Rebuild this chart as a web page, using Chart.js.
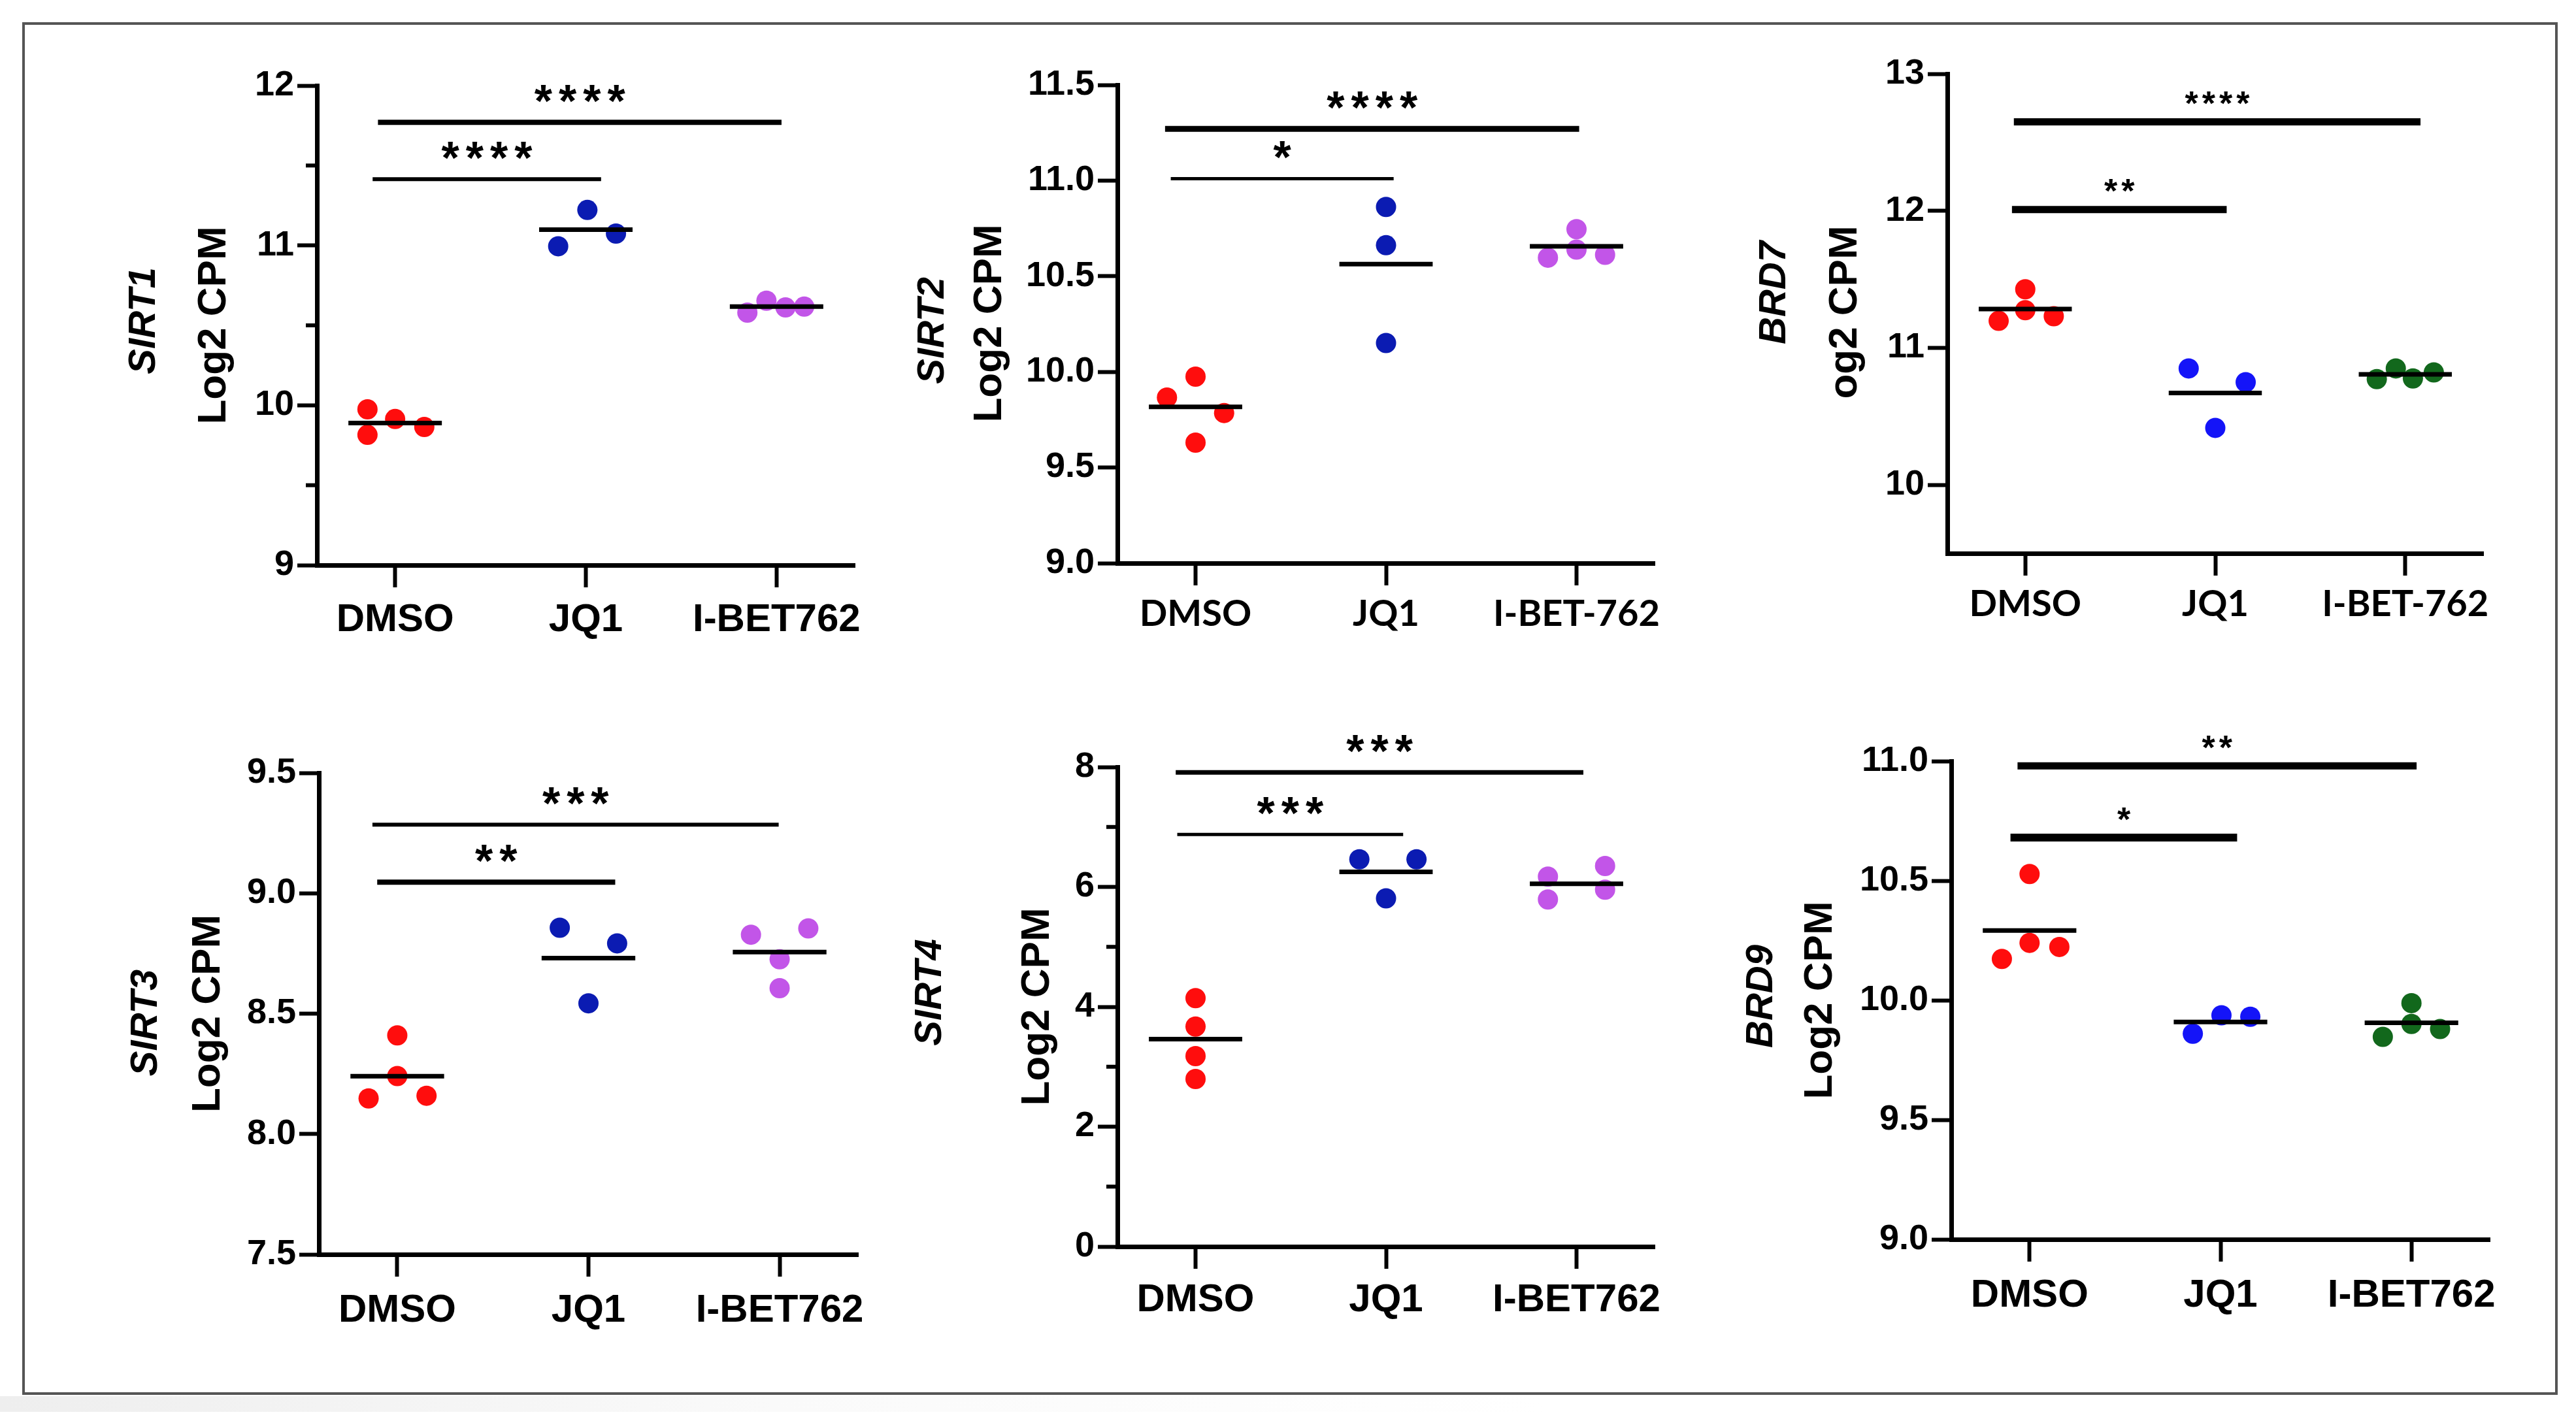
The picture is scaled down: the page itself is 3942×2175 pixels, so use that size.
<!DOCTYPE html>
<html>
<head>
<meta charset="utf-8">
<title>SIRT / BRD expression</title>
<script src="https://cdn.jsdelivr.net/npm/chart.js@4.4.1/dist/chart.umd.min.js"></script>
<style>
    html, body { margin: 0; padding: 0; background: #fff; }
    body { width: 3942px; height: 2175px; position: relative; overflow: hidden; }
    #frame { position: absolute; left: 34px; top: 34px; width: 3880px; height: 2101px;
             border: 4px solid #555; box-sizing: border-box; }
    #shade { position: absolute; left: 0; top: 2137px; width: 3942px; height: 24px;
             background: linear-gradient(to right, #eeeeee, #fafafa 30%, #ffffff 60%); }
    canvas { position: absolute; }
</style>
</head>
<body>
<div id="shade"></div>
<div id="frame"></div>
<canvas id="sirt1"></canvas>
<canvas id="sirt2"></canvas>
<canvas id="brd7"></canvas>
<canvas id="sirt3"></canvas>
<canvas id="sirt4"></canvas>
<canvas id="brd9"></canvas>
<script>
"use strict";

// #region Data
const GROUPS = ["DMSO", "JQ1", "I-BET762"];
const GROUPS_DASH = ["DMSO", "JQ1", "I-BET-762"];

// SIRT1
const sirt1Values = [[9.975, 9.815, 9.914, 9.864], [11.222, 10.995, 11.074], [10.58, 10.654, 10.612, 10.617]];
const sirt1Spread = [[-0.145, -0.145, 0, 0.153], [0.008, -0.145, 0.158], [-0.153, -0.053, 0.047, 0.145]];
const sirt1Means = [9.889, 11.099, 10.617];
const sirt1Ticks = [9, 10, 11, 12];
const sirt1TickLabels = ["9", "10", "11", "12"];
const sirt1Minor = [9.5, 10.5, 11.5];
const sirt1Stars = ["****", "****"];
const sirt1Levels = [11.415, 11.77];

// SIRT2
const sirt2Values = [[9.975, 9.866, 9.785, 9.63], [10.862, 10.662, 10.151], [10.597, 10.746, 10.639, 10.612]];
const sirt2Spread = [[0, -0.15, 0.15, 0], [0, 0, 0], [-0.15, 0, 0, 0.15]];
const sirt2Means = [9.817, 10.563, 10.656];
const sirt2Ticks = [9, 9.5, 10, 10.5, 11, 11.5];
const sirt2TickLabels = ["9.0", "9.5", "10.0", "10.5", "11.0", "11.5"];
const sirt2Stars = ["*", "****"];
const sirt2Levels = [11.01, 11.27];

// BRD7
const brd7Values = [[11.197, 11.428, 11.275, 11.231], [10.85, 10.749, 10.416], [10.772, 10.85, 10.777, 10.821]];
const brd7Spread = [[-0.14, 0, 0, 0.15], [-0.14, 0.16, 0], [-0.15, -0.05, 0.04, 0.15]];
const brd7Means = [11.283, 10.671, 10.806];
const brd7Ticks = [10, 11, 12, 13];
const brd7TickLabels = ["10", "11", "12", "13"];
const brd7Stars = ["**", "****"];
const brd7Levels = [12.009, 12.65];

// SIRT3
const sirt3Values = [[8.41, 8.241, 8.148, 8.159], [8.857, 8.792, 8.543], [8.828, 8.854, 8.726, 8.606]];
const sirt3Spread = [[0, 0, -0.15, 0.153], [-0.15, 0.15, 0], [-0.15, 0.15, 0, 0]];
const sirt3Means = [8.24, 8.731, 8.756];
const sirt3Ticks = [7.5, 8, 8.5, 9, 9.5];
const sirt3TickLabels = ["7.5", "8.0", "8.5", "9.0", "9.5"];
const sirt3Stars = ["**", "***"];
const sirt3Levels = [9.046, 9.285];

// SIRT4
const sirt4Values = [[4.145, 3.671, 3.178, 2.796], [6.46, 6.46, 5.81], [6.171, 5.79, 6.349, 5.954]];
const sirt4Spread = [[0, 0, 0, 0], [-0.14, 0.16, 0], [-0.15, -0.15, 0.15, 0.15]];
const sirt4Means = [3.461, 6.25, 6.053];
const sirt4Ticks = [0, 2, 4, 6, 8];
const sirt4TickLabels = ["0", "2", "4", "6", "8"];
const sirt4Minor = [1, 3, 5, 7];
const sirt4Stars = ["***", "***"];
const sirt4Levels = [6.875, 7.91];

// BRD9
const brd9Values = [[10.528, 10.24, 10.173, 10.223], [9.86, 9.937, 9.931], [9.847, 9.988, 9.901, 9.88]];
const brd9Spread = [[0, 0, -0.145, 0.156], [-0.145, 0.005, 0.156], [-0.15, 0, 0, 0.15]];
const brd9Means = [10.292, 9.909, 9.906];
const brd9Ticks = [9, 9.5, 10, 10.5, 11];
const brd9TickLabels = ["9.0", "9.5", "10.0", "10.5", "11.0"];
const brd9Stars = ["*", "**"];
const brd9Levels = [10.68, 10.98];
// #endregion

// #region Styling
const RED = "#ff0d0d";
const NAVY = "#0b1bb2";
const BLUE = "#1414f8";
const VIOLET = "#c255e8";
const GREEN = "#12681c";
const ARIAL = "'Liberation Sans', Arial, sans-serif";
const CALIBRI = "Lato, 'Open Sans', sans-serif";

const PAD_L = 380, PAD_T = 160, PAD_R = 40, PAD_B = 150;
// #endregion

// #region Custom plugin: gene/axis titles, minor ticks, significance stars
const panelDecor = {
    id: "panelDecor",
    afterDraw(chart) {
        const p = chart.options.plugins.panelDecor;
        const { ctx, chartArea } = chart;
        const xs = chart.scales.x;
        const ys = chart.scales.y;
        const mid = (chartArea.top + chartArea.bottom) / 2;
        ctx.save();
        ctx.fillStyle = "#000";
        ctx.strokeStyle = "#000";

        // minor ticks
        ctx.lineWidth = 6;
        (p.minor || []).forEach((v) => {
            const y = ys.getPixelForValue(v);
            ctx.beginPath();
            ctx.moveTo(chartArea.left - 17, y);
            ctx.lineTo(chartArea.left, y);
            ctx.stroke();
        });

        // stars above the bars
        p.stars.forEach((txt, i) => {
            const [x0, x1] = p.barSpans[i];
            const x = xs.getPixelForValue((x0 + x1) / 2);
            const y = ys.getPixelForValue(p.levels[i]) - p.starGap + 0.57 * p.starSize;
            ctx.font = `bold ${p.starSize}px ${ARIAL}`;
            ctx.letterSpacing = `${p.starSpacing}px`;
            ctx.textAlign = "center";
            ctx.textBaseline = "alphabetic";
            ctx.fillText(txt, x + p.starSpacing / 2, y);
        });
        ctx.letterSpacing = "0px";

        // y titles (rotated)
        const drawRot = (text, font, dx, dy) => {
            ctx.save();
            ctx.translate(chartArea.left - dx, mid + dy);
            ctx.rotate(-Math.PI / 2);
            ctx.font = font;
            ctx.textAlign = "center";
            ctx.textBaseline = "middle";
            ctx.fillText(text, 0, 0);
            ctx.restore();
        };
        drawRot(p.yLabel, `bold 62px ${ARIAL}`, p.labelDx, p.labelDy);
        drawRot(p.gene, `italic bold 58px ${ARIAL}`, p.geneDx, p.geneDy);
        ctx.restore();
    },
};
Chart.register(panelDecor);
// #endregion

// #region Panel builder
function buildPanel(cfg) {
    const canvas = document.getElementById(cfg.id);
    const w = cfg.right - cfg.left + PAD_L + PAD_R;
    const h = cfg.bottom - cfg.top + PAD_T + PAD_B;
    canvas.width = w;
    canvas.height = h;
    canvas.style.left = `${cfg.left - PAD_L}px`;
    canvas.style.top = `${cfg.top - PAD_T}px`;
    canvas.style.width = `${w}px`;
    canvas.style.height = `${h}px`;

    const datasets = [];
    // dots
    cfg.values.forEach((vals, g) => {
        datasets.push({
            type: "scatter",
            data: vals.map((v, i) => ({ x: g + cfg.spread[g][i], y: v })),
            backgroundColor: cfg.colors[g],
            borderWidth: 0,
            pointRadius: 15.5,
            pointHoverRadius: 15.5,
            order: 3,
        });
    });
    // mean lines
    cfg.means.forEach((m, g) => {
        datasets.push({
            type: "line",
            data: [{ x: g - 0.245, y: m }, { x: g + 0.245, y: m }],
            borderColor: "#000",
            borderWidth: 7,
            borderCapStyle: "butt",
            pointRadius: 0,
            clip: false,
            order: 1,
        });
    });
    // significance bars
    cfg.levels.forEach((lv, i) => {
        const [x0, x1] = cfg.barSpans[i];
        datasets.push({
            type: "line",
            data: [{ x: x0, y: lv }, { x: x1, y: lv }],
            borderColor: "#000",
            borderWidth: cfg.barWidths[i],
            borderCapStyle: "butt",
            pointRadius: 0,
            clip: false,
            order: 1,
        });
    });

    return new Chart(canvas, {
        type: "scatter",
        data: { datasets },
        options: {
            responsive: false,
            animation: false,
            devicePixelRatio: 1,
            layout: { padding: { top: PAD_T, right: PAD_R, left: 0, bottom: 0 } },
            plugins: {
                legend: { display: false },
                tooltip: { enabled: false },
                panelDecor: {
                    gene: cfg.gene,
                    yLabel: cfg.yLabel,
                    labelDx: cfg.labelDx,
                    labelDy: cfg.labelDy,
                    geneDx: cfg.geneDx,
                    geneDy: cfg.geneDy,
                    minor: cfg.minor,
                    stars: cfg.stars,
                    levels: cfg.levels,
                    barSpans: cfg.barSpans,
                    starSize: cfg.starSize,
                    starSpacing: cfg.starSpacing,
                    starGap: cfg.starGap,
                },
            },
            scales: {
                x: {
                    type: "linear",
                    min: -0.41,
                    max: 2.41,
                    afterBuildTicks: (s) => {
                        s.ticks = [0, 1, 2].map((v) => ({ value: v }));
                    },
                    afterFit: (s) => {
                        s.height = PAD_B;
                    },
                    ticks: {
                        autoSkip: false,
                        maxRotation: 0,
                        padding: cfg.xPad,
                        color: "#000",
                        font: cfg.xFont,
                        callback: (v) => cfg.groups[v],
                    },
                    grid: {
                        drawOnChartArea: false,
                        drawTicks: true,
                        tickLength: 34,
                        tickWidth: 6,
                        tickColor: "#000",
                    },
                    border: { display: true, color: "#000", width: 7 },
                },
                y: {
                    type: "linear",
                    min: cfg.yMin,
                    max: cfg.yMax,
                    afterBuildTicks: (s) => {
                        s.ticks = cfg.ticks.map((v) => ({ value: v }));
                    },
                    afterFit: (s) => {
                        s.width = PAD_L;
                    },
                    ticks: {
                        padding: 5,
                        color: "#000",
                        font: { family: ARIAL, weight: "bold", size: 54 },
                        callback: (v) => cfg.tickLabels[cfg.ticks.indexOf(v)],
                    },
                    grid: {
                        drawOnChartArea: false,
                        drawTicks: true,
                        tickLength: 30,
                        tickWidth: 6,
                        tickColor: "#000",
                    },
                    border: { display: true, color: "#000", width: 7 },
                },
            },
        },
    });
}
// #endregion

const arialX = { family: ARIAL, weight: "bold", size: 60 };
const calibriX = { family: CALIBRI, weight: "bold", size: 56 };

buildPanel({
    id: "sirt1", left: 485, top: 131, right: 1308, bottom: 865,
    yMin: 9, yMax: 12, ticks: sirt1Ticks, tickLabels: sirt1TickLabels, minor: sirt1Minor,
    values: sirt1Values, spread: sirt1Spread, means: sirt1Means,
    colors: [RED, NAVY, VIOLET], groups: GROUPS, xFont: arialX, xPad: 14,
    levels: sirt1Levels, stars: sirt1Stars,
    barSpans: [[-0.118, 1.08], [-0.09, 2.026]], barWidths: [6, 8],
    starSize: 70, starSpacing: 10, starGap: 48,
    gene: "SIRT1", yLabel: "Log2 CPM", labelDx: 157, labelDy: 0, geneDx: 264, geneDy: -7,
});

buildPanel({
    id: "sirt2", left: 1710, top: 130, right: 2532, bottom: 862,
    yMin: 9, yMax: 11.5, ticks: sirt2Ticks, tickLabels: sirt2TickLabels, minor: [],
    values: sirt2Values, spread: sirt2Spread, means: sirt2Means,
    colors: [RED, NAVY, VIOLET], groups: GROUPS_DASH, xFont: calibriX, xPad: 10,
    levels: sirt2Levels, stars: sirt2Stars,
    barSpans: [[-0.13, 1.04], [-0.16, 2.014]], barWidths: [5, 9],
    starSize: 70, starSpacing: 10, starGap: 48,
    gene: "SIRT2", yLabel: "Log2 CPM", labelDx: 195, labelDy: -1, geneDx: 282, geneDy: 10,
});

buildPanel({
    id: "brd7", left: 2980, top: 113, right: 3800, bottom: 847,
    yMin: 9.5, yMax: 13, ticks: brd7Ticks, tickLabels: brd7TickLabels, minor: [],
    values: brd7Values, spread: brd7Spread, means: brd7Means,
    colors: [RED, BLUE, GREEN], groups: GROUPS_DASH, xFont: calibriX, xPad: 10,
    levels: brd7Levels, stars: brd7Stars,
    barSpans: [[-0.07, 1.06], [-0.06, 2.08]], barWidths: [11, 11],
    starSize: 52, starSpacing: 6, starGap: 40,
    gene: "BRD7", yLabel: "og2 CPM", labelDx: 156, labelDy: -2, geneDx: 264, geneDy: -32,
});

buildPanel({
    id: "sirt3", left: 488, top: 1183, right: 1313, bottom: 1920,
    yMin: 7.5, yMax: 9.5, ticks: sirt3Ticks, tickLabels: sirt3TickLabels, minor: [],
    values: sirt3Values, spread: sirt3Spread, means: sirt3Means,
    colors: [RED, NAVY, VIOLET], groups: GROUPS, xFont: arialX, xPad: 16,
    levels: sirt3Levels, stars: sirt3Stars,
    barSpans: [[-0.105, 1.14], [-0.13, 1.995]], barWidths: [8, 6],
    starSize: 70, starSpacing: 10, starGap: 48,
    gene: "SIRT3", yLabel: "Log2 CPM", labelDx: 169, labelDy: 0, geneDx: 264, geneDy: 14,
});

buildPanel({
    id: "sirt4", left: 1710, top: 1174, right: 2532, bottom: 1908,
    yMin: 0, yMax: 8, ticks: sirt4Ticks, tickLabels: sirt4TickLabels, minor: sirt4Minor,
    values: sirt4Values, spread: sirt4Spread, means: sirt4Means,
    colors: [RED, NAVY, VIOLET], groups: GROUPS, xFont: arialX, xPad: 12,
    levels: sirt4Levels, stars: sirt4Stars,
    barSpans: [[-0.096, 1.09], [-0.104, 2.036]], barWidths: [5, 7],
    starSize: 70, starSpacing: 10, starGap: 48,
    gene: "SIRT4", yLabel: "Log2 CPM", labelDx: 122, labelDy: 0, geneDx: 286, geneDy: -22,
});

buildPanel({
    id: "brd9", left: 2986, top: 1165, right: 3810, bottom: 1897,
    yMin: 9, yMax: 11, ticks: brd9Ticks, tickLabels: brd9TickLabels, minor: [],
    values: brd9Values, spread: brd9Spread, means: brd9Means,
    colors: [RED, BLUE, GREEN], groups: GROUPS, xFont: arialX, xPad: 16,
    levels: brd9Levels, stars: brd9Stars,
    barSpans: [[-0.1, 1.087], [-0.063, 2.027]], barWidths: [12, 11],
    starSize: 52, starSpacing: 6, starGap: 40,
    gene: "BRD9", yLabel: "Log2 CPM", labelDx: 200, labelDy: 0, geneDx: 290, geneDy: -6,
});
</script>
</body>
</html>
